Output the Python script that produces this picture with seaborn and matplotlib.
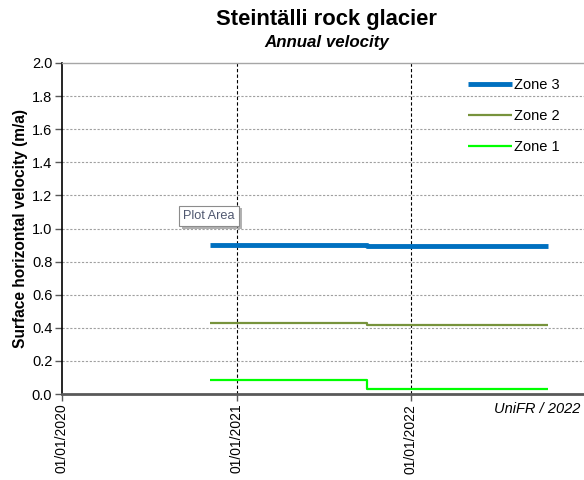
import matplotlib
matplotlib.use("Agg")
import matplotlib.pyplot as plt
import matplotlib.dates as mdates
import matplotlib.patheffects as pe
import seaborn as sns
import pandas as pd

sns.set_theme(style="white")
plt.rcParams["font.family"] = ["Liberation Sans", "DejaVu Sans"]
plt.rcParams["text.color"] = "#000000"
plt.rcParams["axes.labelcolor"] = "#000000"

# Measurement periods (start of first interval, change of interval, end of last interval)
dates = ["2020-11-07", "2021-09-30", "2022-10-15"]
zone3 = [0.900, 0.894, 0.894]
zone2 = [0.431, 0.419, 0.419]
zone1 = [0.085, 0.028, 0.028]

zones = ["Zone 3", "Zone 2", "Zone 1"]
values = {"Zone 3": zone3, "Zone 2": zone2, "Zone 1": zone1}
colors = {"Zone 3": "#0070C0", "Zone 2": "#77933C", "Zone 1": "#00FF00"}
widths = {"Zone 3": 3.5, "Zone 2": 1.6, "Zone 1": 1.6}

frames = []
for z in zones:
    frames.append(pd.DataFrame({"date": pd.to_datetime(dates), "velocity": values[z], "zone": z}))
df = pd.concat(frames, ignore_index=True)

fig = plt.figure(figsize=(5.84, 4.80), dpi=100)
ax = fig.add_axes([62 / 584, 1 - 394 / 480, 1 - 62 / 584 + 0.002, (394 - 63) / 480])

# Horizontal grid
for yv in [0.2, 0.4, 0.6, 0.8, 1.0, 1.2, 1.4, 1.6, 1.8]:
    ax.axhline(yv, color="#A0A0A0", lw=0.8, ls=(0, (2, 1.5)), zorder=0)

# Yearly vertical grid
year_ticks = pd.to_datetime(["2020-01-01", "2021-01-01", "2022-01-01"])
for d in year_ticks[1:]:
    ax.axvline(d, color="#000000", lw=0.8, ls=(0, (3, 2)), zorder=1)

for z in zones:
    sub = df[df["zone"] == z]
    sns.lineplot(data=sub, x="date", y="velocity", ax=ax, color=colors[z],
                 lw=widths[z], drawstyle="steps-post", label=z, zorder=3,
                 solid_capstyle="butt")

ax.set_xlim(pd.Timestamp("2020-01-01"), pd.Timestamp("2023-01-01"))
ax.set_ylim(0, 2.0)
ax.set_yticks([0.0, 0.2, 0.4, 0.6, 0.8, 1.0, 1.2, 1.4, 1.6, 1.8, 2.0])
ax.yaxis.set_major_formatter(matplotlib.ticker.FormatStrFormatter("%.1f"))
ax.set_xticks(year_ticks)
ax.xaxis.set_major_formatter(mdates.DateFormatter("%d/%m/%Y"))
ax.tick_params(axis="x", rotation=90, labelsize=10, length=5, width=1, color="#595959",
               direction="out", pad=2, labelcolor="#000000")
ax.tick_params(axis="y", labelsize=10.5, length=5, width=1, color="#595959",
               direction="out", pad=2, labelcolor="#000000")
ax.tick_params(bottom=True, left=True)

ax.set_xlabel("")
ax.set_ylabel("Surface horizontal velocity (m/a)", fontsize=11.2, fontweight="bold", labelpad=3)

for side in ["top", "right", "left", "bottom"]:
    ax.spines[side].set_visible(True)
ax.spines["left"].set_color("#000000")
ax.spines["left"].set_linewidth(1.2)
ax.spines["bottom"].set_color("#595959")
ax.spines["bottom"].set_linewidth(2.0)
ax.spines["top"].set_color("#A6A6A6")
ax.spines["top"].set_linewidth(1.0)
ax.spines["right"].set_visible(False)

leg = ax.legend(loc="upper right", frameon=False, fontsize=10.5, handlelength=3.0,
                handletextpad=0.1, labelspacing=1.15, bbox_to_anchor=(0.97, 0.985),
                borderaxespad=0.3)
for t in leg.get_texts():
    t.set_color("#000000")

fig.text(326 / 584, 1 - 20 / 480, "Steintälli rock glacier", ha="center", va="center",
         fontsize=15.8, fontweight="bold", color="#000000")
fig.text(327 / 584, 1 - 43 / 480, "Annual velocity", ha="center", va="center",
         fontsize=12.2, fontweight="bold", style="italic", color="#000000")

ax.text(0.99, -0.025, "UniFR / 2022", transform=ax.transAxes, ha="right", va="top",
        fontsize=10.5, style="italic", color="#000000")

# Chart-element hover label
fig.text(209 / 584, 1 - 216 / 480, "Plot Area", ha="center", va="center", fontsize=9.2,
         color="#505870",
         bbox=dict(boxstyle="square,pad=0.35", fc="white", ec="#8C8C8C", lw=0.8,
                   path_effects=[pe.withSimplePatchShadow(offset=(2, -2), shadow_rgbFace="#808080", alpha=0.6)]))

fig.savefig("out.png", dpi=100)
